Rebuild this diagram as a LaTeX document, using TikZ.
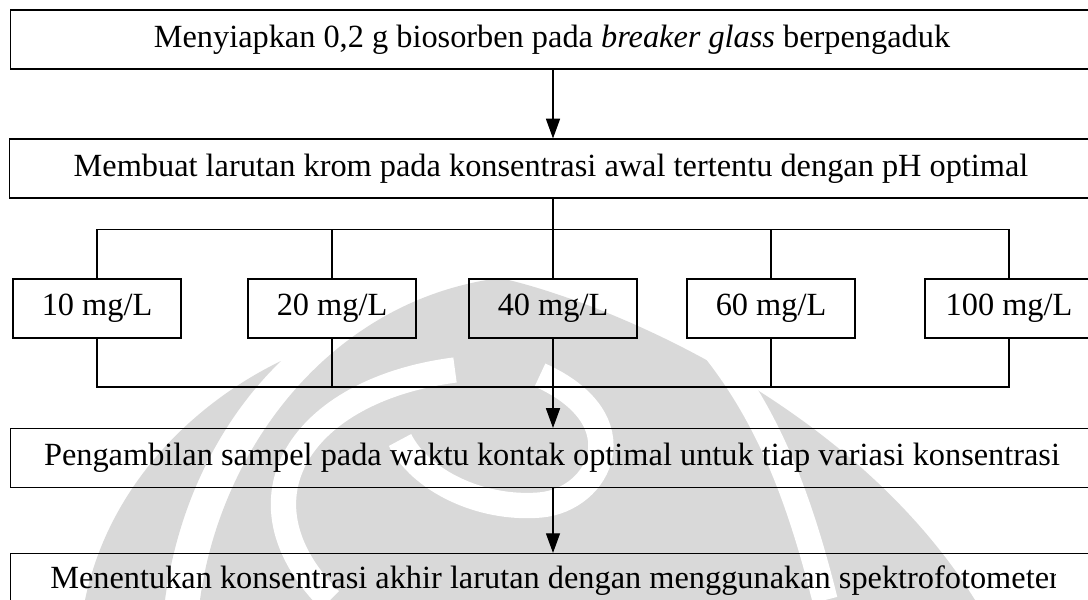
\documentclass[tikz,border=0pt]{standalone}
\usepackage{fontspec}
\setmainfont{Liberation Serif}
\usetikzlibrary{arrows.meta}
\definecolor{wmgray}{RGB}{217,217,217}
\tikzset{
  stepbox/.style={draw, line width=0.8pt, minimum width=27.05cm, minimum height=1.475cm, inner sep=0pt},
  kbox/.style={draw, line width=0.8pt, minimum width=4.2cm, minimum height=1.475cm, inner sep=0pt},
  arr/.style={-{Triangle[length=14pt,width=10pt]}, line width=0.8pt},
  gap/.style={white, line width=18pt}
}
\begin{document}
\begin{tikzpicture}[x=0.025cm, y=-0.025cm, font=\fontsize{23}{27}\selectfont]
\useasboundingbox (0,0) rectangle (1088,600);
\clip (0,0) rectangle (1088,600);

\fill[wmgray] (200,600) .. controls (220,450) and (330,300) .. (500,278) .. controls (600,300) and (850,400) .. (975,600) -- cycle;
\fill[wmgray] (281,361) .. controls (200,400) and (110,480) .. (85,600) -- (165,600) .. controls (180,490) and (230,410) .. (281,361) -- cycle;
\draw[gap] (455,370) .. controls (300,390) and (230,500) .. (330,600);
\draw[gap] (715,350) .. controls (770,420) and (800,500) .. (825,600);
\draw[gap] (540,375) .. controls (640,420) and (600,500) .. (540,505) .. controls (480,510) and (420,480) .. (400,440);

\node[stepbox] (s1) at (552,39.5) {Menyiapkan 0,2 g biosorben pada \textit{breaker glass} berpengaduk};
\node[stepbox] (s2) at (551,168.5) {Membuat larutan krom pada konsentrasi awal tertentu dengan pH optimal};
\node[kbox] (k1) at (97,308.5) {10 mg/L};
\node[kbox] (k2) at (332,308.5) {20 mg/L};
\node[kbox] (k3) at (553,308.5) {40 mg/L};
\node[kbox] (k4) at (771,308.5) {60 mg/L};
\node[kbox] (k5) at (1009,308.5) {100 mg/L};
\node[stepbox] (s3) at (552,458) {Pengambilan sampel pada waktu kontak optimal untuk tiap variasi konsentrasi};
\node[stepbox] (s4) at (552,583) {};
\begin{scope}
\clip (0,0) rectangle (1055,600);
\node[anchor=west, inner sep=0pt] (s4t) at (50,581) {Menentukan konsentrasi akhir larutan dengan menggunakan spektrofotometer};
\end{scope}

\coordinate (up) at (0,229.5);
\coordinate (down) at (0,387);
\draw[arr] (s1.south -| k3) -- (s2.north -| k3);
\draw[line width=0.8pt] (s2.south -| k3) -- (k3.north);
\draw[line width=0.8pt] (k1.north) -- (k1.north |- up) -- (k5.north |- up) -- (k5.north);
\draw[line width=0.8pt] (k1.south) -- (k1.south |- down) -- (k5.south |- down) -- (k5.south);
\foreach \k in {k2,k4} \draw[line width=0.8pt] (\k.north) -- (\k.north |- up) (\k.south) -- (\k.south |- down);
\draw[arr] (k3.south) -- (k3.south |- s3.north);
\draw[arr] (s3.south -| k3) -- (s4.north -| k3);
\end{tikzpicture}
\end{document}
